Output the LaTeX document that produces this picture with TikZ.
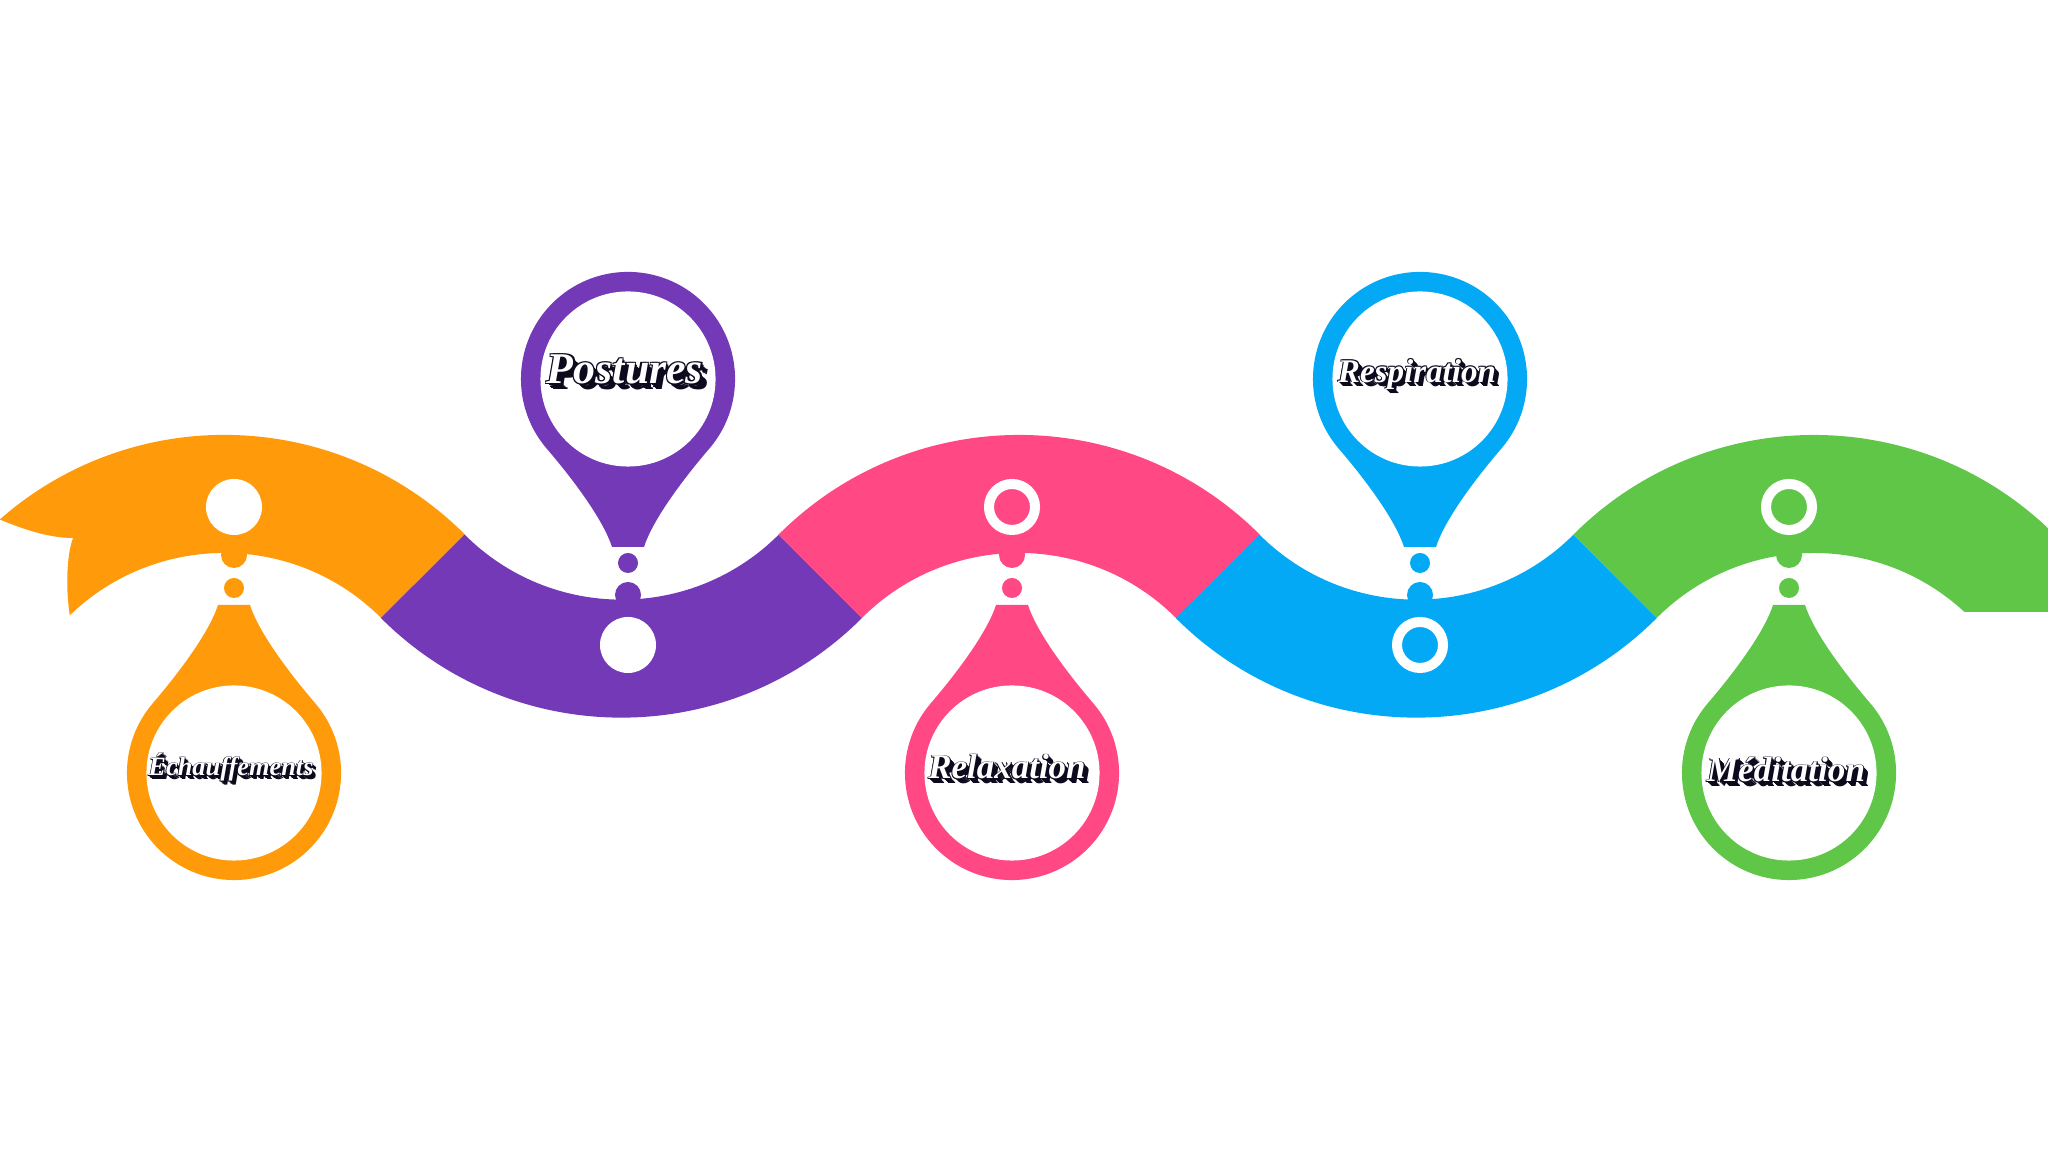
\documentclass[tikz,border=0pt]{standalone}
\usepackage{fontspec}
\usepackage{graphicx}
\newfontfamily\lblfont{Liberation Serif}
\definecolor{cOrange}{HTML}{FF9B0B}
\definecolor{cPurple}{HTML}{7339B7}
\definecolor{cPink}{HTML}{FF4884}
\definecolor{cBlue}{HTML}{03A9F5}
\definecolor{cGreen}{HTML}{60C648}
\definecolor{ink}{HTML}{0D0A1E}
\newcommand{\lyr}[3]{\makebox[0pt][l]{\hspace*{#1}\raisebox{#2}{\textcolor{ink}{#3}}}}
\newcommand{\retro}[1]{%
\lyr{0.14em}{-0.14em}{#1}\lyr{0.11em}{-0.11em}{#1}\lyr{0.08em}{-0.08em}{#1}\lyr{0.05em}{-0.05em}{#1}%
\lyr{0.025em}{0.025em}{#1}\lyr{-0.025em}{0.025em}{#1}\lyr{0.025em}{-0.025em}{#1}\lyr{-0.025em}{-0.025em}{#1}%
\textcolor{white}{#1}}
\newcommand{\pinbelow}[2]{%
 \fill[#2] (#1-16,547) .. controls (#1-25,519) and (#1-56,478) .. (#1-82,447.8)
   arc[start angle=140,end angle=400,radius=1.07cm]
   .. controls (#1+56,478) and (#1+25,519) .. (#1+16,547) -- cycle;
 \fill[white] (#1,379) circle[radius=0.875cm];
 \fill[#2] (#1,564) circle[radius=0.1cm];
 \fill[#2] (#1,597) circle[radius=0.13cm];
}
\newcommand{\pinabove}[2]{%
 \fill[#2] (#1-16,605) .. controls (#1-25,633) and (#1-56,674) .. (#1-82,704.2)
   arc[start angle=220,end angle=-40,radius=1.07cm]
   .. controls (#1+56,674) and (#1+25,633) .. (#1+16,605) -- cycle;
 \fill[white] (#1,773) circle[radius=0.875cm];
 \fill[#2] (#1,589) circle[radius=0.1cm];
 \fill[#2] (#1,557) circle[radius=0.13cm];
}
\tikzset{lbl/.style={inner sep=0pt, font=\lblfont\bfseries\itshape\fontsize{20}{24}\selectfont}}
\begin{document}
\begin{tikzpicture}[x=0.01cm,y=0.01cm]
\fill[white] (0,0) rectangle (2048,1152);
\useasboundingbox (0,0) rectangle (2048,1152);
% band
\fill[cOrange] (-0.2,632.5) arc[start angle=131.3,end angle=45,radius=3.4cm] -- (381.2,534)
  arc[start angle=45,end angle=134,radius=2.22cm]
  .. controls (66,560) and (66,595) .. (73,614)
  .. controls (50,614) and (25,622) .. (-0.2,632.5) -- cycle;
\fill[cPurple] (464.6,617.4) arc[start angle=225,end angle=315,radius=2.22cm] -- (862,534)
  arc[start angle=315,end angle=225,radius=3.4cm] -- cycle;
\fill[cPink] (778.6,617.4) arc[start angle=135,end angle=45,radius=3.4cm] -- (1176,534)
  arc[start angle=45,end angle=135,radius=2.22cm] -- cycle;
\fill[cBlue] (1259.4,617.4) arc[start angle=225,end angle=315,radius=2.22cm] -- (1656.8,534)
  arc[start angle=315,end angle=225,radius=3.4cm] -- cycle;
\fill[cGreen] (1573.4,617.4) arc[start angle=135,end angle=46.47,radius=3.4cm] -- (2048,540) -- (1964.5,540)
  arc[start angle=47.25,end angle=135,radius=2.22cm] -- cycle;
% pins
\pinbelow{234}{cOrange}
\pinabove{628}{cPurple}
\pinbelow{1012}{cPink}
\pinabove{1420}{cBlue}
\pinbelow{1789}{cGreen}
% markers on band
\fill[white] (234,645) circle[radius=0.28cm];
\fill[white] (628,507) circle[radius=0.28cm];
\draw[white, line width=0.1cm] (1012,645) circle[radius=0.23cm];
\draw[white, line width=0.1cm] (1420,507) circle[radius=0.23cm];
\draw[white, line width=0.1cm] (1789,645) circle[radius=0.23cm];
% labels
\node[lbl] (tEch) at (231,383) {\resizebox{1.65cm}{!}{\retro{Échauffements}}};
\node[lbl] (tPos) at (625,780) {\resizebox{1.56cm}{!}{\retro{Postures}}};
\node[lbl] (tRel) at (1007,383) {\resizebox{1.57cm}{!}{\retro{Relaxation}}};
\node[lbl] (tRes) at (1417,776) {\resizebox{1.58cm}{!}{\retro{Respiration}}};
\node[lbl] (tMed) at (1786,380) {\resizebox{1.58cm}{!}{\retro{Méditation}}};
\end{tikzpicture}
\end{document}
